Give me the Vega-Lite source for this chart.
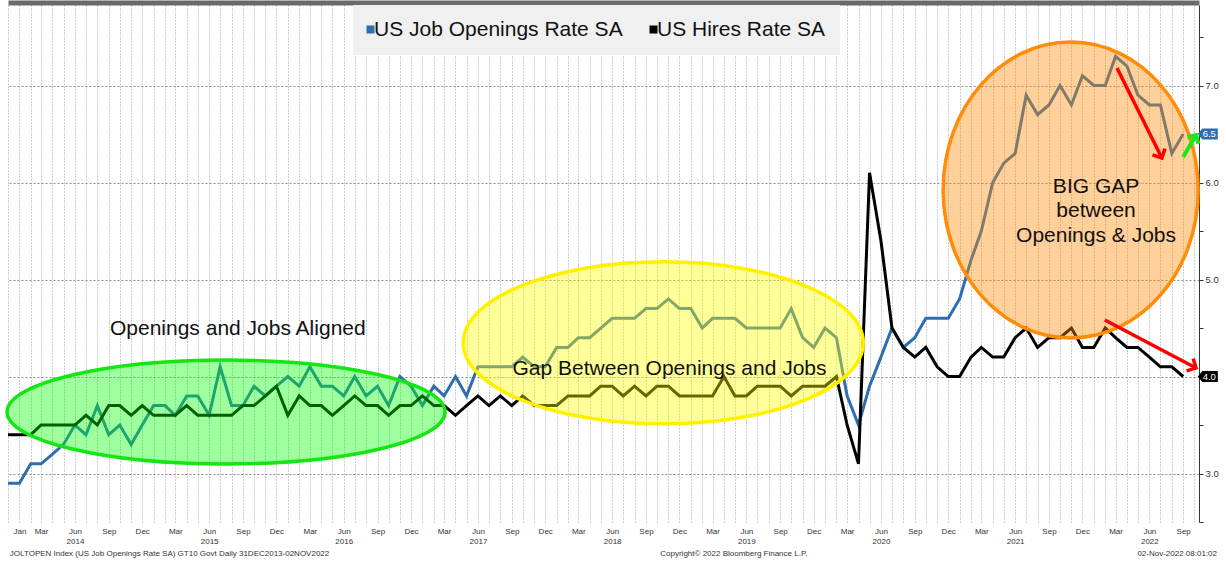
{
  "$schema": "https://vega.github.io/schema/vega-lite/v6.json",
  "width": 1191,
  "height": 517,
  "autosize": {"type": "none"},
  "padding": {"left": 8, "top": 5, "right": 27, "bottom": 41},
  "background": "white",
  "config": {"font": "Liberation Sans", "view": {"stroke": null}},
  "datasets": {
    "jolts": [
      {"date": "2013-12-01", "openings": 2.9, "hires": 3.4},
      {"date": "2014-01-01", "openings": 2.9, "hires": 3.4},
      {"date": "2014-02-01", "openings": 3.1, "hires": 3.4},
      {"date": "2014-03-01", "openings": 3.1, "hires": 3.5},
      {"date": "2014-04-01", "openings": 3.2, "hires": 3.5},
      {"date": "2014-05-01", "openings": 3.3, "hires": 3.5},
      {"date": "2014-06-01", "openings": 3.5, "hires": 3.5},
      {"date": "2014-07-01", "openings": 3.4, "hires": 3.6},
      {"date": "2014-08-01", "openings": 3.7, "hires": 3.5},
      {"date": "2014-09-01", "openings": 3.4, "hires": 3.7},
      {"date": "2014-10-01", "openings": 3.5, "hires": 3.7},
      {"date": "2014-11-01", "openings": 3.3, "hires": 3.6},
      {"date": "2014-12-01", "openings": 3.5, "hires": 3.7},
      {"date": "2015-01-01", "openings": 3.7, "hires": 3.6},
      {"date": "2015-02-01", "openings": 3.7, "hires": 3.6},
      {"date": "2015-03-01", "openings": 3.6, "hires": 3.6},
      {"date": "2015-04-01", "openings": 3.8, "hires": 3.7},
      {"date": "2015-05-01", "openings": 3.8, "hires": 3.6},
      {"date": "2015-06-01", "openings": 3.6, "hires": 3.6},
      {"date": "2015-07-01", "openings": 4.1, "hires": 3.6},
      {"date": "2015-08-01", "openings": 3.7, "hires": 3.6},
      {"date": "2015-09-01", "openings": 3.7, "hires": 3.7},
      {"date": "2015-10-01", "openings": 3.9, "hires": 3.7},
      {"date": "2015-11-01", "openings": 3.8, "hires": 3.8},
      {"date": "2015-12-01", "openings": 3.9, "hires": 3.9},
      {"date": "2016-01-01", "openings": 4.0, "hires": 3.6},
      {"date": "2016-02-01", "openings": 3.9, "hires": 3.8},
      {"date": "2016-03-01", "openings": 4.1, "hires": 3.7},
      {"date": "2016-04-01", "openings": 3.9, "hires": 3.7},
      {"date": "2016-05-01", "openings": 3.9, "hires": 3.6},
      {"date": "2016-06-01", "openings": 3.8, "hires": 3.7},
      {"date": "2016-07-01", "openings": 4.0, "hires": 3.8},
      {"date": "2016-08-01", "openings": 3.8, "hires": 3.7},
      {"date": "2016-09-01", "openings": 3.9, "hires": 3.7},
      {"date": "2016-10-01", "openings": 3.7, "hires": 3.6},
      {"date": "2016-11-01", "openings": 4.0, "hires": 3.7},
      {"date": "2016-12-01", "openings": 3.9, "hires": 3.7},
      {"date": "2017-01-01", "openings": 3.7, "hires": 3.8},
      {"date": "2017-02-01", "openings": 3.9, "hires": 3.7},
      {"date": "2017-03-01", "openings": 3.8, "hires": 3.7},
      {"date": "2017-04-01", "openings": 4.0, "hires": 3.6},
      {"date": "2017-05-01", "openings": 3.8, "hires": 3.7},
      {"date": "2017-06-01", "openings": 4.1, "hires": 3.8},
      {"date": "2017-07-01", "openings": 4.1, "hires": 3.7},
      {"date": "2017-08-01", "openings": 4.1, "hires": 3.8},
      {"date": "2017-09-01", "openings": 4.1, "hires": 3.7},
      {"date": "2017-10-01", "openings": 4.2, "hires": 3.8},
      {"date": "2017-11-01", "openings": 4.1, "hires": 3.7},
      {"date": "2017-12-01", "openings": 4.1, "hires": 3.7},
      {"date": "2018-01-01", "openings": 4.3, "hires": 3.7},
      {"date": "2018-02-01", "openings": 4.3, "hires": 3.8},
      {"date": "2018-03-01", "openings": 4.4, "hires": 3.8},
      {"date": "2018-04-01", "openings": 4.4, "hires": 3.8},
      {"date": "2018-05-01", "openings": 4.5, "hires": 3.9},
      {"date": "2018-06-01", "openings": 4.6, "hires": 3.9},
      {"date": "2018-07-01", "openings": 4.6, "hires": 3.8},
      {"date": "2018-08-01", "openings": 4.6, "hires": 3.9},
      {"date": "2018-09-01", "openings": 4.7, "hires": 3.8},
      {"date": "2018-10-01", "openings": 4.7, "hires": 3.9},
      {"date": "2018-11-01", "openings": 4.8, "hires": 3.9},
      {"date": "2018-12-01", "openings": 4.7, "hires": 3.8},
      {"date": "2019-01-01", "openings": 4.7, "hires": 3.8},
      {"date": "2019-02-01", "openings": 4.5, "hires": 3.8},
      {"date": "2019-03-01", "openings": 4.6, "hires": 3.8},
      {"date": "2019-04-01", "openings": 4.6, "hires": 4.0},
      {"date": "2019-05-01", "openings": 4.6, "hires": 3.8},
      {"date": "2019-06-01", "openings": 4.5, "hires": 3.8},
      {"date": "2019-07-01", "openings": 4.5, "hires": 3.9},
      {"date": "2019-08-01", "openings": 4.5, "hires": 3.9},
      {"date": "2019-09-01", "openings": 4.5, "hires": 3.9},
      {"date": "2019-10-01", "openings": 4.7, "hires": 3.8},
      {"date": "2019-11-01", "openings": 4.4, "hires": 3.9},
      {"date": "2019-12-01", "openings": 4.3, "hires": 3.9},
      {"date": "2020-01-01", "openings": 4.5, "hires": 3.9},
      {"date": "2020-02-01", "openings": 4.4, "hires": 4.0},
      {"date": "2020-03-01", "openings": 3.8, "hires": 3.5},
      {"date": "2020-04-01", "openings": 3.5, "hires": 3.1},
      {"date": "2020-05-01", "openings": 3.9, "hires": 6.1},
      {"date": "2020-06-01", "openings": 4.2, "hires": 5.4},
      {"date": "2020-07-01", "openings": 4.5, "hires": 4.5},
      {"date": "2020-08-01", "openings": 4.3, "hires": 4.3},
      {"date": "2020-09-01", "openings": 4.4, "hires": 4.2},
      {"date": "2020-10-01", "openings": 4.6, "hires": 4.3},
      {"date": "2020-11-01", "openings": 4.6, "hires": 4.1},
      {"date": "2020-12-01", "openings": 4.6, "hires": 4.0},
      {"date": "2021-01-01", "openings": 4.8, "hires": 4.0},
      {"date": "2021-02-01", "openings": 5.2, "hires": 4.2},
      {"date": "2021-03-01", "openings": 5.5, "hires": 4.3},
      {"date": "2021-04-01", "openings": 6.0, "hires": 4.2},
      {"date": "2021-05-01", "openings": 6.2, "hires": 4.2},
      {"date": "2021-06-01", "openings": 6.3, "hires": 4.4},
      {"date": "2021-07-01", "openings": 6.9, "hires": 4.5},
      {"date": "2021-08-01", "openings": 6.7, "hires": 4.3},
      {"date": "2021-09-01", "openings": 6.8, "hires": 4.4},
      {"date": "2021-10-01", "openings": 7.0, "hires": 4.4},
      {"date": "2021-11-01", "openings": 6.8, "hires": 4.5},
      {"date": "2021-12-01", "openings": 7.1, "hires": 4.3},
      {"date": "2022-01-01", "openings": 7.0, "hires": 4.3},
      {"date": "2022-02-01", "openings": 7.0, "hires": 4.5},
      {"date": "2022-03-01", "openings": 7.3, "hires": 4.4},
      {"date": "2022-04-01", "openings": 7.2, "hires": 4.3},
      {"date": "2022-05-01", "openings": 6.9, "hires": 4.3},
      {"date": "2022-06-01", "openings": 6.8, "hires": 4.2},
      {"date": "2022-07-01", "openings": 6.8, "hires": 4.1},
      {"date": "2022-08-01", "openings": 6.3, "hires": 4.1},
      {"date": "2022-09-01", "openings": 6.5, "hires": 4.0}
    ]
  },
  "resolve": {"axis": {"x": "independent", "y": "independent"}},
  "layer": [
    {
      "data": {"name": "jolts"},
      "transform": [{"fold": ["openings", "hires"], "as": ["series", "value"]}],
      "mark": {"type": "line", "strokeWidth": 3},
      "encoding": {
        "x": {
          "field": "date", "type": "temporal",
          "scale": {"type": "utc", "domain": [{"year": 2013, "month": 12, "date": 1, "utc": true}, {"year": 2022, "month": 10, "date": 14, "utc": true}]},
          "axis": {
            "orient": "bottom",
            "tickCount": {"interval": "month", "step": 1},
            "grid": true, "gridColor": "#9a9a9a", "gridDash": [1, 2], "gridWidth": 1,
            "domain": false, "ticks": false, "tickSize": 0,
            "labelExpr": "utcyear(datum.value) < 2014 ? '' : (utcmonth(datum.value) == 5 ? [utcFormat(datum.value, '%b'), utcFormat(datum.value, '%Y')] : ((utcmonth(datum.value) == 2 || utcmonth(datum.value) == 8 || utcmonth(datum.value) == 11 || (utcmonth(datum.value) == 0 && utcyear(datum.value) == 2014)) ? utcFormat(datum.value, '%b') : ''))",
            "labelOverlap": false, "labelFlush": false, "labelBound": false, "labelAngle": 0,
            "labelFont": "Liberation Sans", "labelFontSize": 8, "labelColor": "#333333",
            "labelPadding": 5, "labelLineHeight": 10, "labelBaseline": "top",
            "title": null, "zindex": 0
          }
        },
        "y": {
          "field": "value", "type": "quantitative",
          "scale": {"domain": [2.5, 7.83], "nice": false, "zero": false},
          "axis": {
            "orient": "right",
            "values": [2.5, 3, 3.5, 4, 4.5, 5, 5.5, 6, 6.5, 7, 7.5],
            "labelExpr": "(datum.value % 1 == 0 && datum.value != 4) ? format(datum.value, '.1f') : ''",
            "grid": false,
            "domain": true, "domainColor": "#333333", "domainWidth": 1,
            "ticks": true, "tickColor": "#333333", "tickSize": 4,
            "labelFont": "Liberation Sans", "labelFontSize": 9.5, "labelColor": "#333333", "labelPadding": 2,
            "title": null, "zindex": 0
          }
        },
        "color": {
          "field": "series", "type": "nominal",
          "scale": {"domain": ["openings", "hires"], "range": ["#2e6eb0", "#000000"]},
          "legend": {
            "orient": "none", "legendX": 345, "legendY": 0, "direction": "horizontal",
            "title": null, "fillColor": "#f0f0f0", "padding": 14,
            "symbolType": "square", "symbolSize": 9, "symbolStrokeWidth": 5, "symbolOffset": -7,
            "labelFont": "Liberation Sans", "labelFontSize": 21, "labelColor": "#111111",
            "labelOffset": -7, "columnPadding": 19, "labelLimit": 400,
            "labelExpr": "datum.label == 'openings' ? 'US Job Openings Rate SA' : 'US Hires Rate SA'"
          }
        }
      }
    },
    {
      "data": {"values": [{}]},
      "mark": {"type": "point", "shape": "M1,0C1,0.1311,0.5523,0.2374,0,0.2374C-0.5523,0.2374,-1,0.1311,-1,0C-1,-0.1311,-0.5523,-0.2374,0,-0.2374C0.5523,-0.2374,1,-0.1311,1,0Z", "size": 191844, "filled": true, "fill": "#00ff00", "fillOpacity": 0.38, "stroke": "#14e614", "strokeWidth": 3.5, "strokeOpacity": 1, "opacity": 1},
      "encoding": {
        "x": {"datum": {"year": 2015, "month": 7, "date": 17, "utc": true}, "type": "temporal",
          "axis": {"orient": "top", "domain": true, "domainColor": "#6b6b6b", "domainWidth": 5, "offset": 2.5, "labels": false, "ticks": false, "grid": false, "title": null}},
        "y": {"datum": 3.634, "type": "quantitative",
          "axis": {"orient": "right", "values": [3, 4, 5, 6, 7], "grid": true, "gridColor": "#8c8c8c", "gridDash": [2, 2], "gridWidth": 1, "labels": false, "ticks": false, "domain": false, "title": null, "zindex": 0}}
      }
    },
    {
      "data": {"values": [{}]},
      "mark": {"type": "point", "shape": "M1,0C1,0.2237,0.5523,0.405,0,0.405C-0.5523,0.405,-1,0.2237,-1,0C-1,-0.2237,-0.5523,-0.405,0,-0.405C0.5523,-0.405,1,-0.2237,1,0Z", "size": 160000, "filled": true, "fill": "#ffff00", "fillOpacity": 0.4, "stroke": "#fff000", "strokeWidth": 3.5, "strokeOpacity": 1, "opacity": 1},
      "encoding": {
        "x": {"datum": {"year": 2018, "month": 10, "date": 18, "utc": true}, "type": "temporal", "axis": null},
        "y": {"datum": 4.347, "type": "quantitative", "axis": null}
      }
    },
    {
      "data": {"values": [{}]},
      "mark": {"type": "point", "shape": "M0.8615,0C0.8615,0.5523,0.4758,1,0,1C-0.4758,1,-0.8615,0.5523,-0.8615,0C-0.8615,-0.5523,-0.4758,-1,0,-1C0.4758,-1,0.8615,-0.5523,0.8615,0Z", "size": 87616, "filled": true, "fill": "#ff8a00", "fillOpacity": 0.4, "stroke": "#ff8c0a", "strokeWidth": 3.5, "strokeOpacity": 1, "opacity": 1},
      "encoding": {
        "x": {"datum": {"year": 2021, "month": 10, "date": 30, "utc": true}, "type": "temporal", "axis": null},
        "y": {"datum": 5.923, "type": "quantitative", "axis": null}
      }
    },
    {
      "data": {"values": [{}]},
      "mark": {"type": "text", "text": "Openings and Jobs Aligned", "font": "Liberation Sans", "fontSize": 21, "color": "#111111", "align": "center", "baseline": "alphabetic"},
      "encoding": {
        "x": {"datum": {"year": 2015, "month": 8, "date": 18, "utc": true}, "type": "temporal", "axis": null},
        "y": {"datum": 4.428, "type": "quantitative", "axis": null}
      }
    },
    {
      "data": {"values": [{}]},
      "mark": {"type": "text", "text": "Gap Between Openings and Jobs", "font": "Liberation Sans", "fontSize": 21, "color": "#111111", "align": "center", "baseline": "alphabetic"},
      "encoding": {
        "x": {"datum": {"year": 2018, "month": 11, "date": 4, "utc": true}, "type": "temporal", "axis": null},
        "y": {"datum": 4.016, "type": "quantitative", "axis": null}
      }
    },
    {
      "data": {"values": [{}]},
      "mark": {"type": "text", "text": ["BIG GAP", "between", "Openings & Jobs"], "lineHeight": 24.5, "font": "Liberation Sans", "fontSize": 21, "color": "#111111", "align": "center", "baseline": "alphabetic"},
      "encoding": {
        "x": {"datum": {"year": 2022, "month": 1, "date": 7, "utc": true}, "type": "temporal", "axis": null},
        "y": {"datum": 5.892, "type": "quantitative", "axis": null}
      }
    },
    {
      "data": {"values": [{}]},
      "mark": {"type": "rule", "color": "#ff0000", "strokeWidth": 3.5},
      "encoding": {
        "x": {"datum": {"year": 2022, "month": 3, "date": 5, "utc": true}, "type": "temporal", "axis": null},
        "x2": {"datum": {"year": 2022, "month": 7, "date": 5, "utc": true}},
        "y": {"datum": 7.18, "type": "quantitative", "axis": null},
        "y2": {"datum": 6.253}
      }
    },
    {
      "data": {"values": [{}]},
      "mark": {"type": "point", "shape": "M-1,1L0,0L1,1", "size": 196, "filled": false, "color": "#ff0000", "strokeWidth": 3.5, "opacity": 1, "angle": 153.4},
      "encoding": {
        "x": {"datum": {"year": 2022, "month": 7, "date": 5, "utc": true}, "type": "temporal", "axis": null},
        "y": {"datum": 6.253, "type": "quantitative", "axis": null}
      }
    },
    {
      "data": {"values": [{}]},
      "mark": {"type": "rule", "color": "#ff0000", "strokeWidth": 3.5},
      "encoding": {
        "x": {"datum": {"year": 2022, "month": 1, "date": 31, "utc": true}, "type": "temporal", "axis": null},
        "x2": {"datum": {"year": 2022, "month": 10, "date": 6, "utc": true}},
        "y": {"datum": 4.583, "type": "quantitative", "axis": null},
        "y2": {"datum": 4.088}
      }
    },
    {
      "data": {"values": [{}]},
      "mark": {"type": "point", "shape": "M-1,1L0,0L1,1", "size": 196, "filled": false, "color": "#ff0000", "strokeWidth": 3.5, "opacity": 1, "angle": 117.8},
      "encoding": {
        "x": {"datum": {"year": 2022, "month": 10, "date": 6, "utc": true}, "type": "temporal", "axis": null},
        "y": {"datum": 4.088, "type": "quantitative", "axis": null}
      }
    },
    {
      "data": {"values": [{}]},
      "mark": {"type": "rule", "color": "#1ee61e", "strokeWidth": 4},
      "encoding": {
        "x": {"datum": {"year": 2022, "month": 9, "date": 1, "utc": true}, "type": "temporal", "axis": null},
        "x2": {"datum": {"year": 2022, "month": 10, "date": 6, "utc": true}},
        "y": {"datum": 6.263, "type": "quantitative", "axis": null},
        "y2": {"datum": 6.49}
      }
    },
    {
      "data": {"values": [{}]},
      "mark": {"type": "point", "shape": "M-1,1L0,0L1,1", "size": 160, "filled": false, "color": "#1ee61e", "strokeWidth": 4, "opacity": 1, "angle": 30.6},
      "encoding": {
        "x": {"datum": {"year": 2022, "month": 10, "date": 6, "utc": true}, "type": "temporal", "axis": null},
        "y": {"datum": 6.49, "type": "quantitative", "axis": null}
      }
    },
    {
      "data": {"values": [{"series": "openings", "last": 6.5}, {"series": "hires", "last": 4.0}]},
      "mark": {"type": "point", "shape": "M-1,0L-0.55,-0.55L1,-0.55L1,0.55L-0.55,0.55Z", "size": 400, "filled": true, "opacity": 1, "strokeWidth": 0},
      "encoding": {
        "x": {"datum": {"year": 2022, "month": 11, "date": 7, "utc": true}, "type": "temporal", "axis": null},
        "y": {"field": "last", "type": "quantitative", "axis": null},
        "color": {"field": "series", "type": "nominal", "legend": null}
      }
    },
    {
      "data": {"values": [{"series": "openings", "last": 6.5}, {"series": "hires", "last": 4.0}]},
      "mark": {"type": "text", "font": "Liberation Sans", "fontSize": 9.5, "color": "#ffffff", "align": "center", "baseline": "middle"},
      "encoding": {
        "x": {"datum": {"year": 2022, "month": 11, "date": 11, "utc": true}, "type": "temporal", "axis": null},
        "y": {"field": "last", "type": "quantitative", "axis": null},
        "text": {"field": "last", "type": "quantitative", "format": ".1f"}
      }
    },
    {
      "data": {"values": [{}]},
      "mark": {"type": "text", "text": "JOLTOPEN Index (US Job Openings Rate SA) GT10  Govt  Daily 31DEC2013-02NOV2022", "font": "Liberation Sans", "fontSize": 8, "color": "#333333", "align": "left", "baseline": "middle"},
      "encoding": {
        "x": {"datum": {"year": 2013, "month": 12, "date": 6, "utc": true}, "type": "temporal", "axis": null},
        "y": {"datum": 2.17, "type": "quantitative", "axis": null}
      }
    },
    {
      "data": {"values": [{}]},
      "mark": {"type": "text", "text": "Copyright© 2022 Bloomberg Finance L.P.", "font": "Liberation Sans", "fontSize": 8, "color": "#333333", "align": "center", "baseline": "middle"},
      "encoding": {
        "x": {"datum": {"year": 2019, "month": 4, "date": 28, "utc": true}, "type": "temporal", "axis": null},
        "y": {"datum": 2.17, "type": "quantitative", "axis": null}
      }
    },
    {
      "data": {"values": [{}]},
      "mark": {"type": "text", "text": "02-Nov-2022 08:01:02", "font": "Liberation Sans", "fontSize": 8, "color": "#333333", "align": "right", "baseline": "middle"},
      "encoding": {
        "x": {"datum": {"year": 2022, "month": 12, "date": 2, "utc": true}, "type": "temporal", "axis": null},
        "y": {"datum": 2.17, "type": "quantitative", "axis": null}
      }
    }
  ]
}
